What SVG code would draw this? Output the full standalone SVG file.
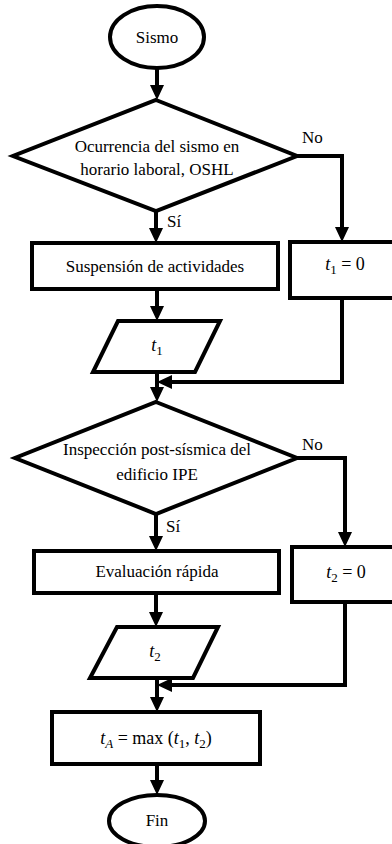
<svg xmlns="http://www.w3.org/2000/svg" width="392" height="844" viewBox="0 0 392 844">
  <style>
    .shape { fill: #ffffff; stroke: #000000; stroke-width: 4; stroke-linejoin: miter; }
    .conn { fill: none; stroke: #000000; stroke-width: 4; }
    text { font-family: "Liberation Serif", "Times New Roman", "DejaVu Serif", serif; font-size: 17px; fill: #000000; }
    .c { text-anchor: middle; }
    .m { font-size: 18px; }
    .it { font-style: italic; }
    .sub { font-size: 13px; }
  </style>
  <defs>
    <marker id="arrow" viewBox="0 0 20 14" refX="10" refY="7" markerWidth="20" markerHeight="14" markerUnits="userSpaceOnUse" orient="auto">
      <path d="M0,0 L15,7 L0,14 z" fill="#000000"/>
    </marker>
  </defs>

  <rect width="392" height="844" fill="#ffffff"/>

  <!-- connectors -->
  <g id="connectors">
    <path class="conn" d="M157,68 V95" marker-end="url(#arrow)"/>
    <path class="conn" d="M156,211 V238" marker-end="url(#arrow)"/>
    <path class="conn" d="M297,156 H342 V237" marker-end="url(#arrow)"/>
    <path class="conn" d="M157,289 V316" marker-end="url(#arrow)"/>
    <path class="conn" d="M342,298 V382 H162" marker-end="url(#arrow)"/>
    <path class="conn" d="M157,372 V397" marker-end="url(#arrow)"/>
    <path class="conn" d="M156,514 V546" marker-end="url(#arrow)"/>
    <path class="conn" d="M297,458 H345 V542" marker-end="url(#arrow)"/>
    <path class="conn" d="M156,593 V622" marker-end="url(#arrow)"/>
    <path class="conn" d="M345,602 V685 H162" marker-end="url(#arrow)"/>
    <path class="conn" d="M157,678 V707" marker-end="url(#arrow)"/>
    <path class="conn" d="M157,764 V790" marker-end="url(#arrow)"/>
    <text x="302" y="143">No</text>
    <text x="167" y="227">Sí</text>
    <text x="302" y="450">No</text>
    <text x="166" y="532">Sí</text>
  </g>

  <g id="sismo">
    <ellipse class="shape" cx="157" cy="37" rx="47" ry="31"/>
    <text class="c" x="157" y="43">Sismo</text>
  </g>

  <g id="oshl">
    <polygon class="shape" points="156,100 297,156 156,211 13,156"/>
    <text class="c" x="157" y="152">Ocurrencia del sismo en</text>
    <text class="c" x="157" y="175">horario laboral, OSHL</text>
  </g>

  <g id="suspension">
    <rect class="shape" x="32" y="243" width="246" height="46"/>
    <text class="c" x="155" y="272">Suspensión de actividades</text>
  </g>

  <g id="t1-cero">
    <rect class="shape" x="290" y="242" width="106" height="56"/>
    <text class="c m" x="345" y="270"><tspan class="it">t</tspan><tspan class="sub" dy="4">1</tspan><tspan dy="-4"> = 0</tspan></text>
  </g>

  <g id="t1">
    <polygon class="shape" points="118,321 220,321 195,372 93,372"/>
    <text class="c m" x="157" y="351"><tspan class="it">t</tspan><tspan class="sub" dy="4">1</tspan></text>
  </g>

  <g id="ipe">
    <polygon class="shape" points="156,402 297,458 156,514 15,458"/>
    <text class="c" x="157" y="455">Inspección post-sísmica del</text>
    <text class="c" x="157" y="480">edificio IPE</text>
  </g>

  <g id="evaluacion">
    <rect class="shape" x="34" y="551" width="245" height="42"/>
    <text class="c" x="157" y="577">Evaluación rápida</text>
  </g>

  <g id="t2-cero">
    <rect class="shape" x="292" y="547" width="104" height="55"/>
    <text class="c m" x="346" y="578"><tspan class="it">t</tspan><tspan class="sub" dy="4">2</tspan><tspan dy="-4"> = 0</tspan></text>
  </g>

  <g id="t2">
    <polygon class="shape" points="117,627 218,627 193,678 90,678"/>
    <text class="c m" x="155" y="657"><tspan class="it">t</tspan><tspan class="sub" dy="4">2</tspan></text>
  </g>

  <g id="ta">
    <rect class="shape" x="52" y="712" width="208" height="52"/>
    <text class="c m" x="156" y="744"><tspan class="it">t</tspan><tspan class="it sub" dy="4">A</tspan><tspan dy="-4"> = max (</tspan><tspan class="it">t</tspan><tspan class="sub" dy="4">1</tspan><tspan dy="-4">, </tspan><tspan class="it">t</tspan><tspan class="sub" dy="4">2</tspan><tspan dy="-4">)</tspan></text>
  </g>

  <g id="fin">
    <ellipse class="shape" cx="157" cy="821" rx="48" ry="26"/>
    <text class="c" x="157" y="826">Fin</text>
  </g>
</svg>
